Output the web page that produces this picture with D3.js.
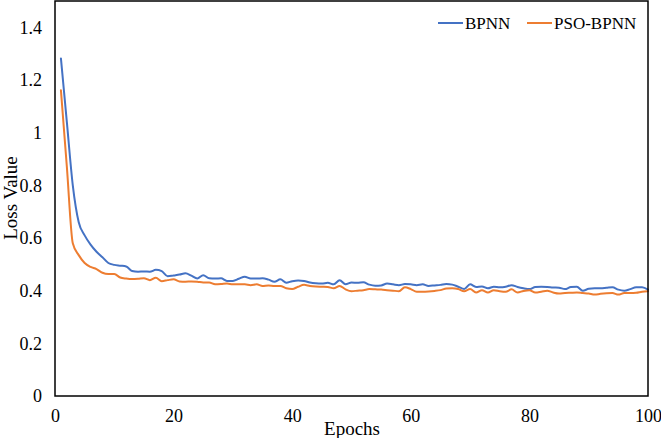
<!DOCTYPE html>
<html>
<head>
<meta charset="utf-8">
<script src="https://cdn.jsdelivr.net/npm/d3@7"></script>
<style>
  body { margin: 0; background: #fff; }
  svg { display: block; }
  svg text { font-family: "Liberation Serif", "Times New Roman", serif; fill: #000; }
</style>
</head>
<body>
<div id="chart"></div>
<script>
// Loss per epoch
var bpnn = [
  1.282, 1.04, 0.80, 0.66, 0.61, 0.575, 0.548, 0.527, 0.505, 0.498,
  0.495, 0.492, 0.475, 0.472, 0.473, 0.472, 0.479, 0.474, 0.455, 0.458,
  0.461, 0.466, 0.457, 0.446, 0.459, 0.447, 0.446, 0.447, 0.437, 0.437,
  0.445, 0.453, 0.446, 0.446, 0.447, 0.442, 0.434, 0.443, 0.430, 0.436,
  0.439, 0.437, 0.431, 0.428, 0.427, 0.430, 0.424, 0.440, 0.424, 0.431,
  0.430, 0.432, 0.423, 0.419, 0.420, 0.427, 0.424, 0.421, 0.425, 0.424,
  0.421, 0.424, 0.418, 0.420, 0.422, 0.425, 0.423, 0.415, 0.406, 0.424,
  0.414, 0.416, 0.409, 0.415, 0.413, 0.415, 0.421, 0.414, 0.409, 0.406,
  0.414, 0.415, 0.414, 0.412, 0.411, 0.406, 0.414, 0.415, 0.400, 0.407,
  0.409, 0.409, 0.411, 0.413, 0.404, 0.400, 0.406, 0.413, 0.413, 0.404
]
var psoBpnn = [
  1.161, 0.87, 0.58, 0.535, 0.505, 0.490, 0.482, 0.468, 0.463, 0.463,
  0.450, 0.446, 0.444, 0.445, 0.447, 0.440, 0.449, 0.436, 0.440, 0.443,
  0.435, 0.434, 0.435, 0.434, 0.431, 0.431, 0.424, 0.425, 0.427, 0.424,
  0.424, 0.424, 0.421, 0.424, 0.418, 0.420, 0.418, 0.418, 0.409, 0.406,
  0.415, 0.422, 0.418, 0.416, 0.415, 0.414, 0.409, 0.418, 0.405, 0.398,
  0.400, 0.402, 0.406, 0.405, 0.404, 0.402, 0.400, 0.398, 0.413, 0.406,
  0.396, 0.396, 0.397, 0.399, 0.402, 0.408, 0.409, 0.406, 0.398, 0.406,
  0.393, 0.402, 0.393, 0.402, 0.398, 0.396, 0.405, 0.393, 0.399, 0.402,
  0.393, 0.396, 0.400, 0.393, 0.389, 0.391, 0.392, 0.393, 0.391, 0.389,
  0.385, 0.388, 0.390, 0.391, 0.385, 0.391, 0.391, 0.392, 0.396, 0.398
]
var seriesNames = ['BPNN', 'PSO-BPNN']
var seriesColors = ['#4472C4', '#ED7D31']
var xTicks = [0, 20, 40, 60, 80, 100]
var yTicks = [0, 0.2, 0.4, 0.6, 0.8, 1, 1.2, 1.4]

var W = 661, H = 438
var margin = {top: 1, right: 13, bottom: 42, left: 55}
var width = W - margin.left - margin.right
var height = H - margin.top - margin.bottom
var serif = '"Liberation Serif", "Times New Roman", serif'

var svg = d3.select('#chart').append('svg')
    .attr('width', W)
    .attr('height', H)

var g = svg.append('g').attr('transform', 'translate(' + margin.left + ',' + margin.top + ')')

var x = d3.scaleLinear().domain([0, 100]).range([0, width])
var y = d3.scaleLinear().domain([0, 1.5]).range([height, 0])

// y labels, no tick marks
var yAxis = g.append('g')
    .call(d3.axisLeft(y).tickValues(yTicks).tickSize(0).tickPadding(13)
      .tickFormat(function(d) { return String(+d.toFixed(1)) }))
yAxis.select('.domain').remove()

var xAxis = g.append('g')
    .attr('transform', 'translate(0,' + height + ')')
    .call(d3.axisBottom(x).tickValues(xTicks).tickSize(0).tickPadding(13))
xAxis.select('.domain').remove()

g.selectAll('.tick text')
    .style('font-family', serif)
    .style('font-size', '18px')
    .style('fill', '#000')

var line = d3.line()
    .x(function(d, i) { return x(i + 1) })
    .y(function(d) { return y(d) })
    .curve(d3.curveMonotoneX)

;[bpnn, psoBpnn].forEach(function(s, i) {
  g.append('path')
      .datum(s)
      .attr('fill', 'none')
      .attr('stroke', seriesColors[i])
      .attr('stroke-width', 2)
      .attr('stroke-linejoin', 'round')
      .attr('stroke-linecap', 'round')
      .attr('d', line)
})

// frame
g.append('rect')
    .attr('width', width)
    .attr('height', height)
    .attr('fill', 'none')
    .attr('stroke', '#000')
    .attr('stroke-width', 1.5)

// legend
var legendX = [383, 472]
seriesNames.forEach(function(name, i) {
  var lg = g.append('g').attr('transform', 'translate(' + legendX[i] + ',22)')
  lg.append('line')
      .attr('x1', 0).attr('x2', 25)
      .attr('stroke', seriesColors[i])
      .attr('stroke-width', 2)
  lg.append('text')
      .attr('x', 27)
      .attr('y', 6)
      .style('font-size', '17px')
      .text(name)
})

// axis titles
svg.append('text')
    .attr('x', 352)
    .attr('y', 435)
    .attr('text-anchor', 'middle')
    .style('font-size', '19px')
    .text('Epochs')

svg.append('text')
    .attr('transform', 'translate(17,198) rotate(-90)')
    .attr('text-anchor', 'middle')
    .style('font-size', '19px')
    .text('Loss Value')
</script>
</body>
</html>
